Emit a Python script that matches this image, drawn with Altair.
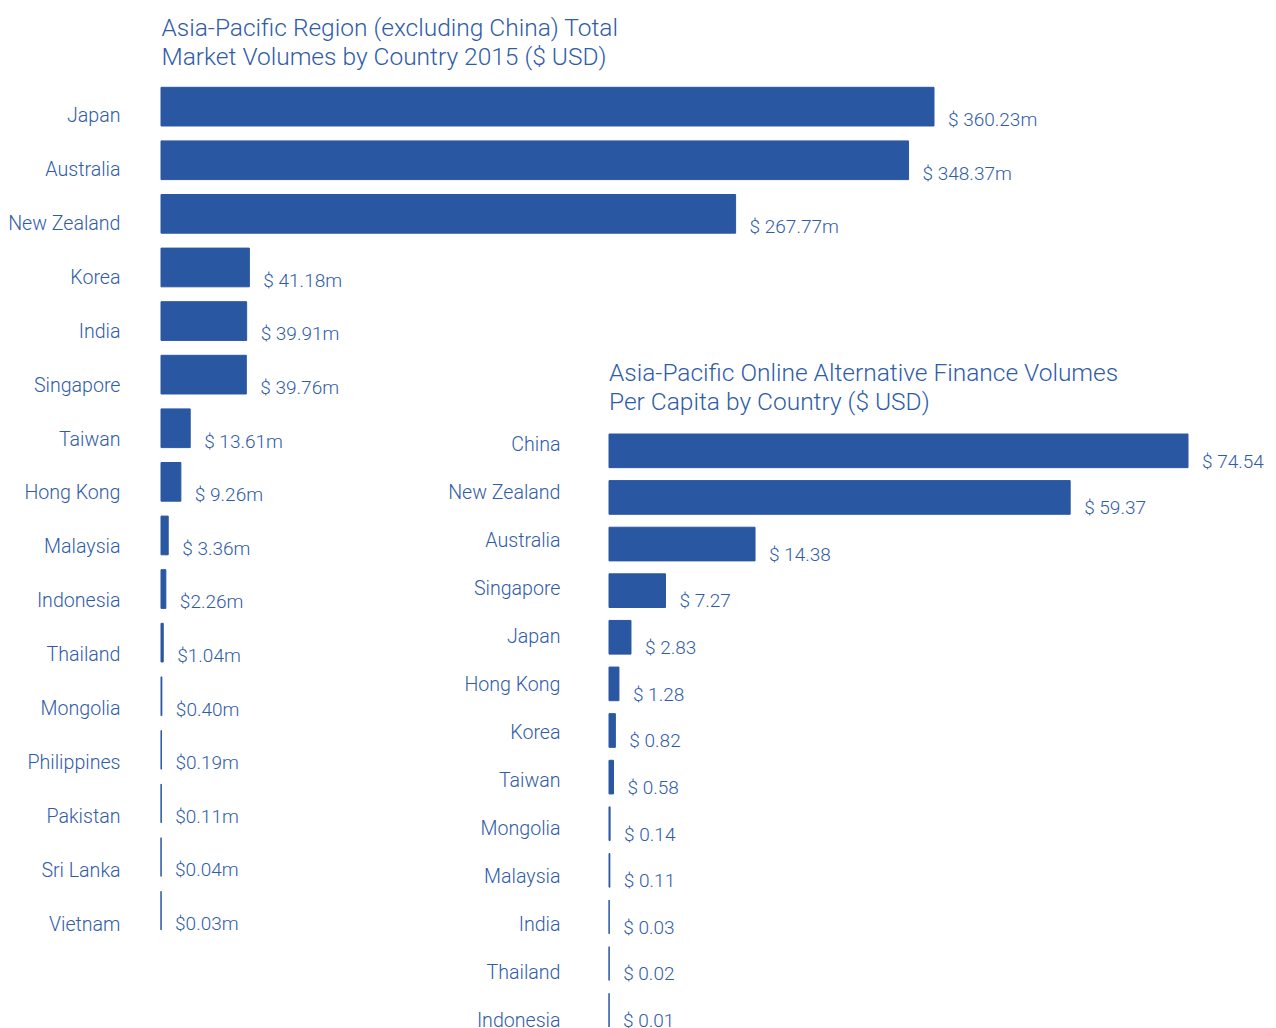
import altair as alt
import pandas as pd

# ---------------- data ----------------
left_title = ["Asia-Pacific Region (excluding China) Total",
              "Market Volumes by Country 2015 ($ USD)"]
left_countries = ["Japan", "Australia", "New Zealand", "Korea", "India", "Singapore",
                  "Taiwan", "Hong Kong", "Malaysia", "Indonesia", "Thailand", "Mongolia",
                  "Philippines", "Pakistan", "Sri Lanka", "Vietnam"]
left_values = [360.23, 348.37, 267.77, 41.18, 39.91, 39.76, 13.61, 9.26, 3.36, 2.26,
               1.04, 0.40, 0.19, 0.11, 0.04, 0.03]
left_labels = ["$ 360.23m", "$ 348.37m", "$ 267.77m", "$ 41.18m", "$ 39.91m", "$ 39.76m",
               "$ 13.61m", "$ 9.26m", "$ 3.36m", "$2.26m", "$1.04m", "$0.40m",
               "$0.19m", "$0.11m", "$0.04m", "$0.03m"]

right_title = ["Asia-Pacific Online Alternative Finance  Volumes",
               "Per Capita by Country ($ USD)"]
right_countries = ["China", "New Zealand", "Australia", "Singapore", "Japan", "Hong Kong",
                   "Korea", "Taiwan", "Mongolia", "Malaysia", "India", "Thailand", "Indonesia"]
# bar lengths as drawn in the picture (Australia's bar is drawn longer than its label)
right_values = [74.54, 59.37, 18.8, 7.27, 2.83, 1.28, 0.82, 0.58, 0.14, 0.11, 0.03, 0.02, 0.01]
right_labels = ["$ 74.54", "$ 59.37", "$ 14.38", "$ 7.27", "$ 2.83", "$ 1.28", "$ 0.82",
                "$ 0.58", "$ 0.14", "$ 0.11", "$ 0.03", "$ 0.02", "$ 0.01"]

# ---------------- style ----------------
FONT = "Roboto"
BLUE = "#2A57A2"
TEXT = "#2F5CA8"

left_df = pd.DataFrame({"country": left_countries, "value": left_values, "label": left_labels})
right_df = pd.DataFrame({"country": right_countries, "value": right_values, "label": right_labels})
one = pd.DataFrame({"k": [0]})


def panel(df, countries, xmax, xrange, band_range, label_range, axis_offset, dy):
    xs = alt.Scale(domain=[0, xmax], range=xrange, zero=True, nice=False)
    ys = alt.Scale(type="band", domain=countries, range=band_range,
                   paddingInner=0.278, paddingOuter=0)
    bars = alt.Chart(df).mark_bar(color=BLUE, stroke=BLUE, strokeWidth=1).encode(
        x=alt.X("value:Q", scale=xs, axis=None),
        y=alt.Y("country:N", scale=ys, axis=None, sort=countries),
    )
    vals = alt.Chart(df).mark_text(
        align="left", baseline="alphabetic", dx=14, dy=dy,
        font=FONT, fontSize=19, color=TEXT, fontWeight=300,
    ).encode(
        x=alt.X("value:Q", scale=xs, axis=None),
        y=alt.Y("country:N", scale=ys, axis=None, sort=countries),
        text="label:N",
    )
    labs = alt.Chart(df).mark_point(opacity=0).encode(
        y=alt.Y("country:N", sort=countries,
                scale=alt.Scale(type="point", domain=countries, range=label_range, padding=0),
                axis=alt.Axis(orient="left", offset=axis_offset, title=None, domain=False,
                              ticks=False, tickSize=0, labelPadding=0, grid=False,
                              labelAlign="right", labelBaseline="alphabetic",
                              labelFont=FONT, labelFontSize=19.6, labelFontWeight=300,
                              labelColor=TEXT, labelOverlap=False, labelLimit=400)),
    )
    return [bars, vals, labs]


left_layers = panel(left_df, left_countries, 360.23, [153, 926], [79.3, 922],
                    [113.7, 922], -112, 19.3)
right_layers = panel(right_df, right_countries, 74.54, [601, 1180], [426, 1019],
                     [442, 1018], -552, 16.8)

title_l = alt.Chart(one).mark_text(
    align="left", baseline="alphabetic", font=FONT, fontSize=24.5, fontWeight=300,
    color=TEXT, lineHeight=29.3,
).encode(x=alt.value(153.5), y=alt.value(27.7), text=alt.value(left_title))

title_r = alt.Chart(one).mark_text(
    align="left", baseline="alphabetic", font=FONT, fontSize=24.5, fontWeight=300,
    color=TEXT, lineHeight=29.3,
).encode(x=alt.value(601), y=alt.value(372.7), text=alt.value(right_title))

chart = alt.layer(*left_layers, *right_layers, title_l, title_r).resolve_scale(
    x="independent", y="independent"
).resolve_axis(
    x="independent", y="independent"
).properties(
    width=1260, height=1020, padding=0, autosize=alt.AutoSizeParams(type="none")
).configure_view(stroke=None)

chart.save("out.html", embed_options={"renderer": "svg", "actions": False})
